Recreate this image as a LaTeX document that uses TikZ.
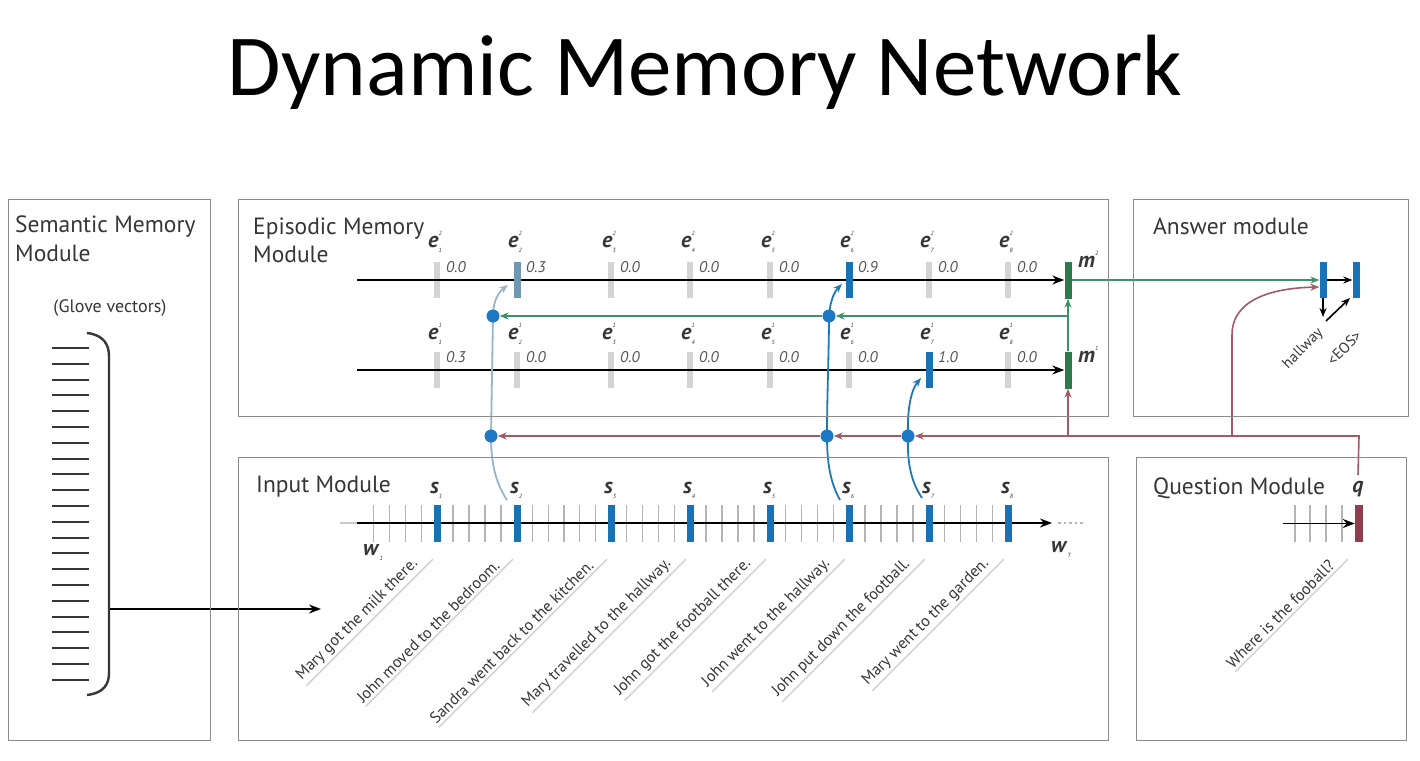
\documentclass[tikz,border=0pt]{standalone}
\usepackage{fontspec}
\setmainfont{PT Sans}
\newfontfamily\titlefont{Carlito}
\usetikzlibrary{arrows.meta,calc}
\pgfdeclarelayer{bgw}
\pgfdeclarelayer{low}
\pgfdeclarelayer{mid}
\pgfsetlayers{bgw,low,mid,main}
\definecolor{barB}{HTML}{1772B6}
\definecolor{barS}{HTML}{7098B0}
\definecolor{barG}{HTML}{D4D4D4}
\definecolor{tickG}{HTML}{B4B4B4}
\definecolor{mG}{HTML}{2C7A4E}
\definecolor{lG}{HTML}{3F9068}
\definecolor{lR}{HTML}{A35A66}
\definecolor{qR}{HTML}{8E3E4C}
\definecolor{lB}{HTML}{98B6C8}
\definecolor{cB}{HTML}{2078B4}
\definecolor{dB}{HTML}{1E78C4}
\definecolor{boxG}{HTML}{8C8C8C}
\definecolor{txt}{HTML}{363636}
\definecolor{uln}{HTML}{D0D0D0}
\newcommand\EL[3]{\textbf{\textit{#1}}\rlap{\raisebox{0.55em}{\fontsize{6}{6}\selectfont\itshape #2}}\raisebox{-0.2em}{\fontsize{6}{6}\selectfont\itshape #3}}
\begin{document}
\begin{tikzpicture}[x=1pt,y=-1pt,
  modbox/.style={draw=boxG, line width=1.4pt, inner sep=0, anchor=north west},
  modtitle/.style={font=\fontsize{23.5}{26}\selectfont, text=txt, anchor=base west, inner sep=0},
  gbar/.style={fill=barG, minimum width=6pt, minimum height=36pt, inner sep=0},
  cbar/.style={minimum width=7pt, minimum height=36pt, inner sep=0},
  tick/.style={draw=tickG, line width=1.2pt},
  elab/.style={font=\fontsize{22}{22}\selectfont, text=txt, inner sep=0},
  val/.style={font=\fontsize{15.5}{15.5}\selectfont\itshape, text=txt!85, anchor=west, inner sep=0},
  dot/.style={circle, fill=dB, minimum size=13pt, inner sep=0},
  tipA/.style={-{Stealth[length=12pt,width=9pt]}},
  tipS/.style={-{Stealth[length=9pt,width=7pt]}},
  blk/.style={line width=1.6pt, black},
  colln/.style={line width=1.6pt},
  sent/.style={font=\fontsize{16}{16}\selectfont, text=txt, rotate=45, anchor=south east, inner xsep=0pt, inner ysep=3pt},
  small/.style={font=\fontsize{15}{15}\selectfont, text=txt, rotate=45, anchor=east, inner sep=0}
]
\useasboundingbox (0,0) rectangle (1420,760);
\begin{pgfonlayer}{bgw}
\fill[white] (0,0) rectangle (1420,760);
\end{pgfonlayer}

% title
\node[font=\titlefont\fontsize{87}{90}\selectfont, anchor=base, inner sep=0] (title) at (705,95) {Dynamic Memory Network};

% module boxes
\node[modbox, minimum width=202pt, minimum height=541pt] (sem) at (8,199) {};
\node[modbox, minimum width=870pt, minimum height=217pt] (epi) at (238,199) {};
\node[modbox, minimum width=275pt, minimum height=217pt] (ans) at (1133,199) {};
\node[modbox, minimum width=870pt, minimum height=283pt] (inp) at (238,457) {};
\node[modbox, minimum width=270pt, minimum height=283pt] (que) at (1136,457) {};

\node[modtitle] (t1a) at (15,232) {Semantic Memory};
\node[modtitle] (t1b) at (15,261) {Module};
\node[modtitle] (t2a) at (253,234) {Episodic Memory};
\node[modtitle] (t2b) at (253,262) {Module};
\node[modtitle] (t3) at (1153,234) {Answer module};
\node[modtitle] (t4) at (256,492) {Input Module};
\node[modtitle] (t5) at (1153,494) {Question Module};

% semantic memory
\node[font=\fontsize{18}{18}\selectfont, text=txt] (glove) at (110,308) {(Glove vectors)};
\foreach \k in {0,...,21} {
  \pgfmathsetmacro\ly{348+15.8*\k}
  \draw[line width=2pt, txt] (52,\ly) -- (89,\ly);
}
\draw[line width=2.4pt, txt] (87,333) .. controls (104,335) and (109,345) .. (109,356) -- (109,673) .. controls (109,684) and (104,693) .. (87,695);
\coordinate (semout) at (109,609);
\coordinate (inpin) at (321,609);

% episodic bars
\begin{pgfonlayer}{low}
\foreach \i/\x in {1/437,2/517,3/611,4/690,5/770,6/849,7/929,8/1008} {
  \node[gbar] (g2-\i) at (\x,280) {};
  \node[gbar] (g1-\i) at (\x,370) {};
}
\end{pgfonlayer}
\foreach \i/\x/\a/\b in {1/437/0.0/0.3, 2/517/0.3/0.0, 3/611/0.0/0.0, 4/690/0.0/0.0, 5/770/0.0/0.0, 6/849/0.9/0.0, 7/929/0.0/1.0, 8/1008/0.0/0.0} {
  \node[elab] (le2-\i) at (\x-2,242) {\EL{e}{2}{\i}};
  \node[elab] (le1-\i) at (\x-2,334) {\EL{e}{1}{\i}};
  \node[val] (v2-\i) at (\x+9,267) {\a};
  \node[val] (v1-\i) at (\x+9,357) {\b};
}
\node[cbar, fill=barS] (e22) at (517,280) {};
\node[cbar, fill=barB] (e26) at (849,280) {};
\node[cbar, fill=barB] (e17) at (929,370) {};
\node[cbar, fill=mG, minimum height=37pt] (m2) at (1068,280) {};
\node[cbar, fill=mG, minimum height=37pt] (m1) at (1068,370) {};
\node[elab, anchor=west] (lm2) at (1078,262) {\EL{m}{2}{}};
\node[elab, anchor=west] (lm1) at (1078,357) {\EL{m}{1}{}};

% answer bars
\node[cbar, fill=barB] (ab1) at (1323,280) {};
\node[cbar, fill=barB] (ab2) at (1356,280) {};
\node[small] (hw) at (1321,331) {hallway};
\node[small] (eos) at (1359,333) {<EOS>};
\coordinate (hwt) at (1323,317);
\coordinate (eo1) at (1326,321);
\coordinate (eo2) at (1350,298);

% dots
\node[dot] (d2a) at (493,316) {};
\node[dot] (d6a) at (829,316) {};
\node[dot] (d2b) at (491,436) {};
\node[dot] (d6b) at (827,436) {};
\node[dot] (d7b) at (908,436) {};

% input module
\begin{pgfonlayer}{low}
\foreach \i/\x/\p/\n in {1/437/358/5, 2/517/437/5, 3/611/517/6, 4/690/611/5, 5/770/690/5, 6/849/770/5, 7/929/849/5, 8/1008/929/5} {
  \pgfmathtruncatemacro\mm{\n-1}
  \foreach \k in {1,...,\mm} {
    \pgfmathsetmacro\tx{\p+\k*(\x-\p)/\n}
    \draw[tick] (\tx,505) -- (\tx,542);
  }
}
\foreach \tx in {1295,1310,1326,1342} { \draw[tick] (\tx,505) -- (\tx,542); }
\end{pgfonlayer}
\foreach \i/\x/\stxt in {1/437/Mary got the milk there., 2/517/John moved to the bedroom., 3/611/Sandra went back to the kitchen., 4/690/Mary travelled to the hallway., 5/770/John got the football there., 6/849/John went to the hallway., 7/929/John put down the football., 8/1008/Mary went to the garden.} {
  \node[cbar, fill=barB, minimum height=37pt] (sb\i) at (\x,523.5) {};
  \node[elab] (ls\i) at (\x-1,490) {\EL{s}{}{\i}};
  \node[sent] (sen\i) at (\x-14,569) {\stxt};
  \draw[uln, line width=1.4pt] (sen\i.south west) -- ($(sen\i.south east)!-14pt!(sen\i.south west)$);
}
\node[elab] (lw1) at (373,552) {\EL{w}{}{1}};
\node[elab] (lwT) at (1061,549) {\EL{w}{}{T}};
\coordinate (fs) at (340,523);
\coordinate (is) at (357,523);
\coordinate (ie) at (1052,523);
\coordinate (de) at (1058,523);
\coordinate (de2) at (1084,523);

% question module
\node[elab] (lq) at (1358,489) {\textbf{\textit{q}}};
\node[cbar, fill=qR, minimum width=8pt, minimum height=37pt] (qb) at (1359,523.5) {};
\coordinate (qs) at (1283,523.5);
\node[sent] (qsen) at (1338,569) {Where is the fooball?};
\draw[uln, line width=1.4pt] (qsen.south west) -- ($(qsen.south east)!-14pt!(qsen.south west)$);

% junctions
\coordinate (r2s) at (357,280);
\coordinate (r1s) at (357,370);
\coordinate (gj) at (1068,316);
\coordinate (rq) at (1359,436);
\coordinate (ra) at (1232,436);
\coordinate (rm) at (1068,436);
\coordinate (rc) at (1232,335);
\coordinate (s2c) at (507,500);
\coordinate (s6c) at (840,500);
\coordinate (s7c) at (922,498);
\coordinate (t22) at (508,285);
\coordinate (t26) at (842,284);
\coordinate (t17) at (921,378);

\begin{pgfonlayer}{mid}
% semantic -> input
\draw[blk, tipA] (semout) -- (inpin);
% episodic rows
\draw[blk, tipA] (r2s) -- (m2.west);
\draw[blk, tipA] (r1s) -- (m1.west);
% input line
\draw[tickG!70, line width=1.4pt] (fs) -- (is);
\draw[blk, tipA] (is) -- (ie);
\draw[tickG, line width=1.6pt, dash pattern=on 2.5pt off 3pt] (de) -- (de2);
% question line
\draw[blk, tipA] (qs) -- (qb.west);
% answer arrows
\draw[blk, tipS] (ab1.east) -- (ab2.west);
\draw[blk, tipS] (ab1.south) -- (hwt);
\draw[blk, tipS] (eo1) -- (eo2);
% green
\draw[lG, colln, tipS] (m1.north) -- (m2.south);
\draw[lG, colln, tipS] (gj) -- (d6a);
\draw[lG, colln, tipS] (d6a) -- (d2a);
\draw[lG, colln, tipS] (m2.east) -- (ab1.west);
% red
\draw[lR, colln] ([yshift=6pt]lq.north) -- (rq) -- (ra);
\draw[lR, colln, tipS] (ra) -- (d7b);
\draw[lR, colln, tipS] (d7b) -- (d6b);
\draw[lR, colln, tipS] (d6b) -- (d2b);
\draw[lR, colln, tipS] (rm) -- (m1.south);
\draw[lR, colln, tipS] (ra) -- (rc) .. controls (1232,298) and (1275,288) .. ($(ab1.west)+(0,7)$);
% blue attention curves
\draw[lB, line width=1.8pt, tipS] (s2c) .. controls (495,482) and (491,462) .. (d2b.center) -- (d2a.center) .. controls (493,300) and (499,292) .. (t22);
\draw[cB, line width=1.8pt, tipS] (s6c) .. controls (830,482) and (827,462) .. (d6b.center) .. controls (827,395) and (829,350) .. (d6a.center) .. controls (830,300) and (835,291) .. (t26);
\draw[cB, line width=1.8pt, tipS] (s7c) .. controls (911,482) and (907,462) .. (d7b.center) .. controls (907,410) and (911,390) .. (t17);
\end{pgfonlayer}
\end{tikzpicture}
\end{document}
